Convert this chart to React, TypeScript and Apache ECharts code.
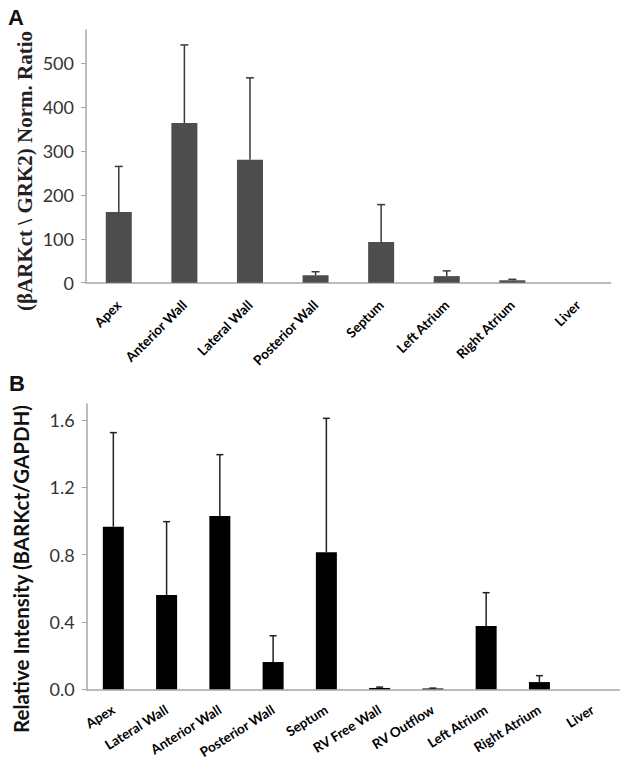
import React, { useEffect, useRef } from "react";
import * as echarts from "echarts";

const catsA = ["Apex", "Anterior Wall", "Lateral Wall", "Posterior Wall", "Septum", "Left Atrium", "Right Atrium", "Liver"];
const valsA = [161, 364, 280, 17, 93, 15, 5.5, 0];
const errA = [104, 178, 187, 8, 85, 12, 2.2, 0];
const ticksA = [0, 100, 200, 300, 400, 500];

const catsB = ["Apex", "Lateral Wall", "Anterior Wall", "Posterior Wall", "Septum", "RV Free Wall", "RV Outflow", "Left Atrium", "Right Atrium", "Liver"];
const valsB = [0.966, 0.56, 1.03, 0.162, 0.814, 0.008, 0.005, 0.376, 0.043, 0];
const errB = [0.559, 0.436, 0.364, 0.156, 0.796, 0.005, 0.002, 0.198, 0.038, 0];
const ticksB = [0, 0.4, 0.8, 1.2, 1.6];

function errSeries(vals: number[], errs: number[], idx: number, color: string, cap: number) {
  return {
    type: "custom",
    xAxisIndex: idx,
    yAxisIndex: idx,
    z: 5,
    data: vals.map((v, i) => [i, v, errs[i]]),
    encode: { x: 0, y: 1 },
    renderItem: (params: any, api: any) => {
      const e = api.value(2);
      if (!(e > 0)) return null;
      const base = api.coord([api.value(0), api.value(1)]);
      const top = api.coord([api.value(0), api.value(1) + e]);
      const st = { stroke: color, lineWidth: 1.5 };
      return {
        type: "group",
        children: [
          { type: "line", shape: { x1: base[0], y1: base[1], x2: top[0], y2: top[1] }, style: st },
          { type: "line", shape: { x1: top[0] - cap / 2, y1: top[1], x2: top[0] + cap / 2, y2: top[1] }, style: st },
        ],
      };
    },
  };
}

export default function App() {
  const ref = useRef<HTMLDivElement>(null);
  useEffect(() => {
    if (!ref.current) return;
    const chart = echarts.init(ref.current, null, { renderer: "svg" });
    const axisGray = "#a6a6a6";
    const tickLabel = { fontFamily: "Lato", fontSize: 18, color: "#333" };
    const catLabel = { fontFamily: "Lato", fontWeight: "bold", fontSize: 13.5, color: "#000", interval: 0 };
    chart.setOption({
      animation: false,
      grid: [
        { left: 86, top: 30, width: 524.7, height: 252.7 },
        { left: 86.7, top: 404, width: 532.6, height: 285.3 },
      ],
      xAxis: [
        {
          type: "category", gridIndex: 0, data: catsA,
          axisLine: { lineStyle: { color: axisGray, width: 1.5 } },
          axisTick: { lineStyle: { color: axisGray }, length: 5 },
          axisLabel: { ...catLabel, rotate: 45, margin: 20 },
        },
        {
          type: "category", gridIndex: 1, data: catsB,
          axisLine: { lineStyle: { color: axisGray, width: 1.5 } },
          axisTick: { lineStyle: { color: axisGray }, length: 5 },
          axisLabel: { ...catLabel, rotate: 32, margin: 19 },
        },
      ],
      yAxis: [
        {
          type: "value", gridIndex: 0, min: 0, max: 576,
          splitLine: { show: false },
          axisLine: { show: true, lineStyle: { color: axisGray, width: 1.5 } },
          axisTick: { show: true, length: 5, lineStyle: { color: axisGray }, customValues: ticksA },
          axisLabel: { ...tickLabel, margin: 12, customValues: ticksA },
        },
        {
          type: "value", gridIndex: 1, min: 0, max: 1.695,
          splitLine: { show: false },
          axisLine: { show: true, lineStyle: { color: axisGray, width: 1.5 } },
          axisTick: { show: true, length: 5, lineStyle: { color: axisGray }, customValues: ticksB },
          axisLabel: { ...tickLabel, margin: 12, customValues: ticksB, formatter: (v: number) => v.toFixed(1) },
        },
      ],
      series: [
        { type: "bar", xAxisIndex: 0, yAxisIndex: 0, data: valsA, barWidth: 26, itemStyle: { color: "#4d4d4d" } },
        errSeries(valsA, errA, 0, "#3a3a3a", 8),
        { type: "bar", xAxisIndex: 1, yAxisIndex: 1, data: valsB, barWidth: 21, itemStyle: { color: "#000" } },
        errSeries(valsB, errB, 1, "#222", 7),
      ],
      graphic: [
        { type: "text", left: 8, top: 6, style: { text: "A", font: "bold 22px 'Liberation Sans', Arial", fill: "#111" } },
        { type: "text", left: 9, top: 372, style: { text: "B", font: "bold 22px 'Liberation Sans', Arial", fill: "#111" } },
        {
          type: "text", x: 25, y: 171, rotation: Math.PI / 2,
          style: { text: "(βARKct \\ GRK2) Norm. Ratio", font: "bold 21px 'Liberation Serif', 'Times New Roman', serif", fill: "#222", textAlign: "center", textVerticalAlign: "middle" },
        },
        {
          type: "text", x: 21, y: 569, rotation: Math.PI / 2,
          style: { text: "Relative Intensity (BARKct/GAPDH)", font: "bold 20.5px Lato, sans-serif", fill: "#111", textAlign: "center", textVerticalAlign: "middle" },
        },
      ],
    });
    return () => chart.dispose();
  }, []);
  return <div ref={ref} style={{ position: "fixed", left: 0, top: 0, width: 629, height: 779, background: "#fff" }} />;
}
